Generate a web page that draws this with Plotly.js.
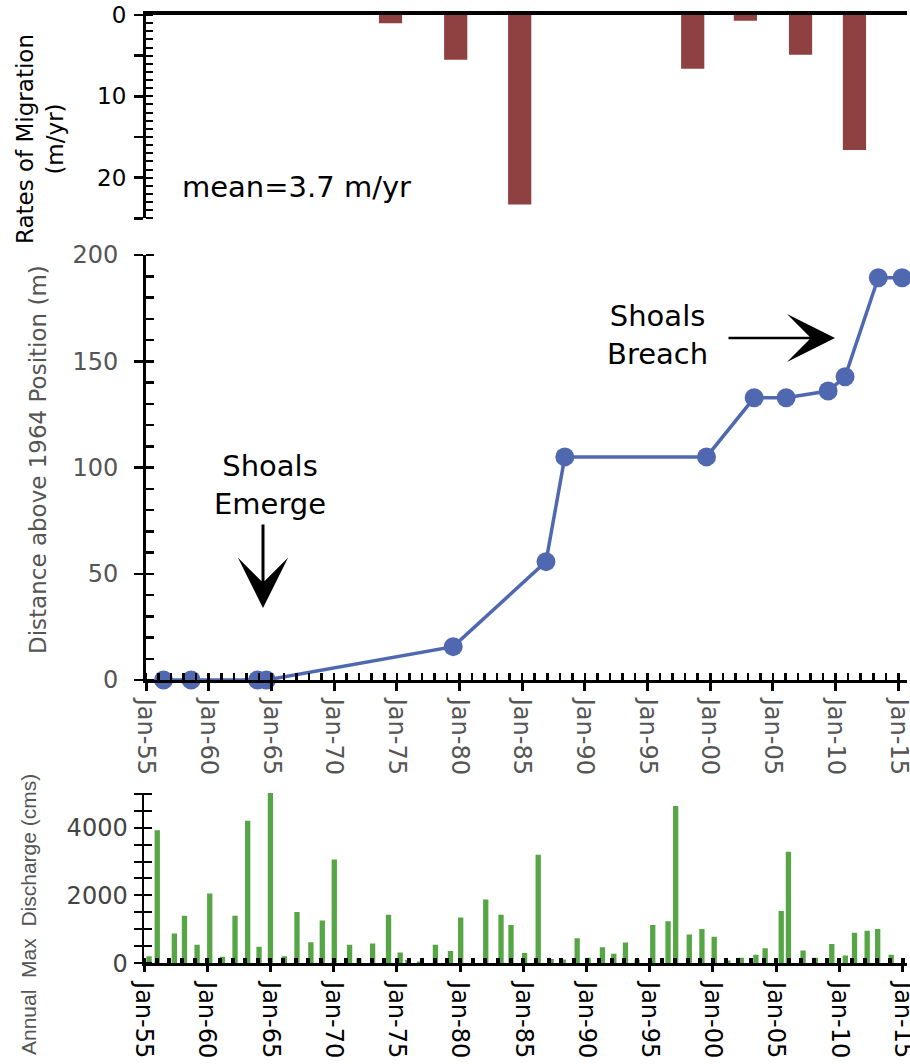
<!DOCTYPE html>
<html><head><meta charset="utf-8">
<script src="https://cdn.plot.ly/plotly-3.0.1.min.js"></script>
<style>html,body{margin:0;padding:0;background:#fff}#chart{width:910px;height:1064px}</style>
</head><body><div id="chart"></div>
<script>
// ---- Top panel: rates of migration (m/yr), plotted downward ----
const rateYears  = [1974.5, 1979.7, 1984.8, 1998.6, 2002.8, 2007.2, 2011.5];
const rateValues = [1.0, 5.5, 23.3, 6.6, 0.7, 4.9, 16.6];
const rateTickVals = [0, 5, 10, 15, 20, 25];
const rateTickText = ['0', '', '10', '', '20', ''];

// ---- Middle panel: distance above 1964 position (m) ----
const posYears  = [1956.4, 1958.6, 1963.9, 1964.6, 1979.5, 1986.9, 1988.4, 1999.7, 2003.5, 2006.05, 2009.4, 2010.75, 2013.4, 2015.3];
const posValues = [0, 0, 0, 0, 15.7, 55.7, 105, 105, 132.8, 132.8, 136, 142.7, 189.3, 189.3];

// ---- Bottom panel: annual max discharge (cms) ----
const qYears = [1955.4, 1956.05, 1957.4, 1958.2, 1959.2, 1960.2, 1961.2, 1962.2, 1963.2, 1964.1,
  1965.0, 1966.1, 1967.1, 1968.2, 1969.1, 1970.05, 1971.26, 1972.0, 1973.08, 1974.34,
  1975.26, 1975.87, 1976.8, 1978.05, 1979.24, 1980.05, 1982.03, 1983.24, 1984.03, 1985.1,
  1986.18, 1987.2, 1988.16, 1989.26, 1990.13, 1991.26, 1992.16, 1993.08, 1994.0, 1995.24,
  1996.45, 1997.05, 1998.13, 1999.13, 2000.1, 2001.18, 2002.24, 2003.4, 2004.13, 2005.4,
  2005.97, 2007.13, 2008.1, 2009.4, 2010.47, 2011.2, 2012.2, 2013.03, 2014.1];
const qValues = [210, 3920, 880, 1400, 550, 2060, 190, 1400, 4200, 490,
  5160, 210, 1510, 620, 1260, 3060, 550, 150, 580, 1430,
  320, 100, 50, 550, 360, 1350, 1880, 1430, 1130, 300,
  3200, 130, 110, 740, 160, 470, 280, 610, 110, 1130,
  1240, 4640, 850, 1010, 780, 80, 160, 250, 440, 1540,
  3290, 380, 160, 570, 230, 900, 960, 1010, 250];
const qTickVals = [0, 500, 1000, 1500, 2000, 2500, 3000, 3500, 4000, 4500, 5000];
const qTickText = ['0', '', '', '', '2000', '', '', '', '4000', '', ''];

// ---- helpers ----
function yr2date(y) {
  const yr = Math.floor(y);
  const a = Date.UTC(yr, 0, 1), b = Date.UTC(yr + 1, 0, 1);
  return new Date(a + (y - yr) * (b - a)).toISOString().slice(0, 19).replace('T', ' ');
}
const YEAR_MS = 365.25 * 864e5;
const W = 910, H = 1064;
const px = x => x / W;
const py = y => 1 - y / H;

const FONT = 'DejaVu Sans, Verdana, sans-serif';
const GRAY = '#555555';

const traces = [
  {
    type: 'bar', xaxis: 'x', yaxis: 'y',
    x: rateYears.map(yr2date), y: rateValues,
    width: 1.85 * YEAR_MS,
    marker: {color: '#8F4040', line: {width: 0}},
    hoverinfo: 'skip'
  },
  {
    type: 'scatter', mode: 'lines+markers', xaxis: 'x2', yaxis: 'y2',
    x: posYears.map(yr2date), y: posValues,
    line: {color: '#5068B0', width: 3.5},
    marker: {color: '#5068B0', size: 19},
    cliponaxis: false, hoverinfo: 'skip'
  },
  {
    type: 'bar', xaxis: 'x3', yaxis: 'y3',
    x: qYears.map(yr2date), y: qValues,
    width: 0.42 * YEAR_MS,
    marker: {color: '#57A645', line: {width: 0}},
    hoverinfo: 'skip'
  }
];

const baseAxis = {showgrid: false, zeroline: false, fixedrange: true, linecolor: '#000', tickcolor: '#000', automargin: false, ticklabeloverflow: 'allow'};

const layout = {
  width: W, height: H,
  margin: {l: 0, r: 0, t: 0, b: 0},
  paper_bgcolor: '#fff', plot_bgcolor: 'rgba(0,0,0,0)',
  showlegend: false,
  font: {family: FONT, color: '#000'},
  xaxis: Object.assign({}, baseAxis, {
    domain: [px(146), px(907)], anchor: 'y', side: 'top', type: 'date',
    range: [yr2date(1955), yr2date(2015.69)],
    showline: true, linewidth: 4, ticks: '', showticklabels: false
  }),
  yaxis: Object.assign({}, baseAxis, {
    domain: [py(218.3), py(15)], anchor: 'x', range: [25, 0],
    showline: true, linewidth: 3,
    tickmode: 'array', tickvals: rateTickVals, ticktext: rateTickText,
    ticks: 'outside', ticklen: 9, tickwidth: 2.5, ticklabelstandoff: 3,
    tickfont: {family: FONT, size: 23, color: '#000'},
    minor: {ticks: 'inside', ticklen: 7, tickwidth: 2, tick0: 0, dtick: 1, tickcolor: '#000'}
  }),
  xaxis2: Object.assign({}, baseAxis, {
    domain: [px(146), px(907)], anchor: 'y2', type: 'date',
    range: [yr2date(1955), yr2date(2015.69)],
    showline: true, linewidth: 3,
    tick0: '1955-01-01', dtick: 'M60', tickformat: '%b-%y', tickangle: 90,
    ticks: 'outside', ticklen: 8, tickwidth: 3, ticklabelstandoff: 3,
    tickfont: {family: FONT, size: 24, color: GRAY},
    minor: {ticks: 'inside', ticklen: 7, tickwidth: 2.5, tick0: '1955-01-01', dtick: 'M12', tickcolor: '#000'}
  }),
  yaxis2: Object.assign({}, baseAxis, {
    domain: [py(680), py(255)], anchor: 'x2', range: [0, 200],
    showline: true, linewidth: 3,
    tick0: 0, dtick: 50,
    ticks: 'outside', ticklen: 9, tickwidth: 2.5, ticklabelstandoff: 11,
    tickfont: {family: FONT, size: 24, color: GRAY},
    minor: {ticks: 'inside', ticklen: 8, tickwidth: 2.5, tick0: 0, dtick: 10, tickcolor: '#000'}
  }),
  xaxis3: Object.assign({}, baseAxis, {
    domain: [px(144), px(907)], anchor: 'y3', type: 'date',
    range: [yr2date(1955), yr2date(2015.35)],
    showline: true, linewidth: 3,
    tick0: '1955-01-01', dtick: 'M60', tickformat: '%b-%y', tickangle: 90,
    ticks: 'outside', ticklen: 6, tickwidth: 3, ticklabelstandoff: 5,
    tickfont: {family: FONT, size: 24, color: '#000'},
    minor: {ticks: 'inside', ticklen: 5, tickwidth: 4, tick0: '1955-01-01', dtick: 'M12', tickcolor: '#000'}
  }),
  yaxis3: Object.assign({}, baseAxis, {
    domain: [py(963.3), py(793)], anchor: 'x3', range: [0, 5020],
    showline: true, linewidth: 2.5,
    tickmode: 'array', tickvals: qTickVals, ticktext: qTickText,
    ticks: 'outside', ticklen: 8, tickwidth: 2, ticklabelstandoff: 1,
    tickfont: {family: FONT, size: 24, color: '#444'},
    minor: {ticks: 'inside', ticklen: 8, tickwidth: 2, tick0: 0, dtick: 500, tickcolor: '#000'}
  }),
  annotations: [
    {xref: 'paper', yref: 'paper', x: px(40), y: py(139), text: 'Rates of Migration<br>(m/yr)',
     textangle: -90, showarrow: false, xanchor: 'center', yanchor: 'middle',
     font: {family: FONT, size: 23, color: '#000'}},
    {xref: 'paper', yref: 'paper', x: px(180), y: py(187), text: 'mean=3.7 m/yr',
     showarrow: false, xanchor: 'left', yanchor: 'middle',
     font: {family: FONT, size: 29, color: '#000'}},
    {xref: 'paper', yref: 'paper', x: px(38), y: py(460), text: 'Distance above 1964 Position (m)',
     textangle: -90, showarrow: false, xanchor: 'center', yanchor: 'middle',
     font: {family: FONT, size: 23, color: GRAY}},
    {xref: 'paper', yref: 'paper', x: px(28), y: py(915), text: 'Annual\u00a0\u00a0Max\u00a0\u00a0Discharge (cms)',
     textangle: -90, showarrow: false, xanchor: 'center', yanchor: 'middle',
     font: {family: 'Liberation Sans, Arial, sans-serif', size: 21, color: GRAY}},
    {xref: 'paper', yref: 'paper', x: px(270), y: py(485), text: 'Shoals<br>Emerge',
     showarrow: false, xanchor: 'center', yanchor: 'middle',
     font: {family: FONT, size: 29, color: '#000'}},
    {xref: 'paper', yref: 'paper', x: px(263), y: py(608), ax: 0, ay: -85, axref: 'pixel', ayref: 'pixel',
     text: '', showarrow: true, arrowhead: 3, arrowsize: 2.8, arrowwidth: 3, arrowcolor: '#000', standoff: 0},
    {xref: 'paper', yref: 'paper', x: px(657), y: py(335), text: 'Shoals<br>Breach',
     showarrow: false, xanchor: 'center', yanchor: 'middle',
     font: {family: FONT, size: 29, color: '#000'}},
    {xref: 'paper', yref: 'paper', x: px(835), y: py(338), ax: -108, ay: 0, axref: 'pixel', ayref: 'pixel',
     text: '', showarrow: true, arrowhead: 3, arrowsize: 3.2, arrowwidth: 2.5, arrowcolor: '#000', standoff: 0}
  ]
};

Plotly.newPlot('chart', traces, layout, {staticPlot: true, displayModeBar: false});
</script>
</body></html>
